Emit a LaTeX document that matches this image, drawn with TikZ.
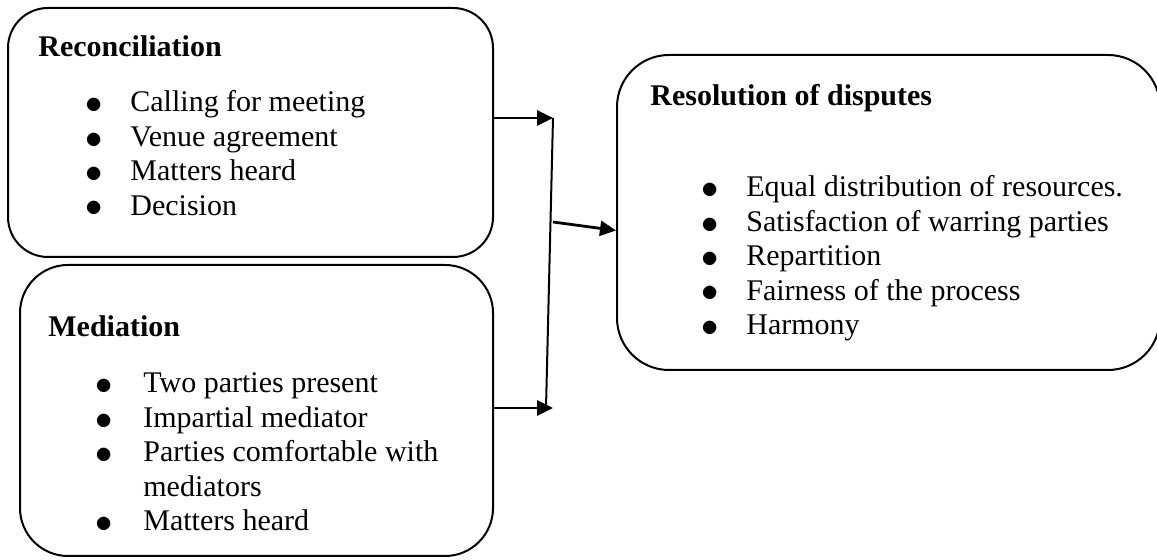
\documentclass[tikz,border=0pt]{standalone}
\usepackage{fontspec}
\setmainfont{Liberation Serif}
\usetikzlibrary{arrows.meta,fit,positioning}

\newcommand{\blt}{\raisebox{-0.9pt}{\fontsize{18.5}{17}\selectfont$\bullet$}}

\begin{document}
\begin{tikzpicture}[x=0.5pt,y=-0.5pt,
  box/.style={draw,line width=1pt,inner sep=0pt},
  title/.style={anchor=base west,inner sep=0pt,font=\fontsize{15}{17.2}\selectfont\bfseries},
  items/.style={anchor=base west,inner sep=0pt,font=\fontsize{15}{17.2}\selectfont},
  arr/.style={line width=1.4pt,-{Triangle[length=8pt,width=7.5pt]}}]
  \useasboundingbox (0,0) rectangle (1157,560);

  % boxes
  \node[box,rounded corners=20pt,fit={(8,8) (493,257)}] (recon) {};
  \node[box,rounded corners=24pt,fit={(20,265) (493,556)}] (med) {};
  \node[box,rounded corners=26pt,fit={(617,55) (1160,370)}] (res) {};

  % texts
  \node[title] (recont) at (38,57) {Reconciliation};
  \node[items] (reconl) at (85,112) {\begin{tabular}[t]{@{}p{22.5pt}@{}l@{}}
    \blt & Calling for meeting\\
    \blt & Venue agreement\\
    \blt & Matters heard\\
    \blt & Decision
  \end{tabular}};
  \node[title] (medt) at (48,337) {Mediation};
  \node[items] (medl) at (95,393) {\begin{tabular}[t]{@{}p{24pt}@{}l@{}}
    \blt & Two parties present\\
    \blt & Impartial mediator\\
    \blt & Parties comfortable with\\
         & mediators\\
    \blt & Matters heard
  \end{tabular}};
  \node[title] (rest) at (650,106) {Resolution of disputes};
  \node[items] (resl) at (701,197) {\begin{tabular}[t]{@{}p{22.5pt}@{}l@{}}
    \blt & Equal distribution of resources.\\
    \blt & Satisfaction of warring parties\\
    \blt & Repartition\\
    \blt & Fairness of the process\\
    \blt & Harmony
  \end{tabular}};

  % connectors
  \coordinate (jt) at (553,118);
  \coordinate (jb) at (546,408);
  \coordinate (jm) at (553,222);
  \draw[line width=1pt] (jt) -- (jb);
  \draw[arr] (jt -| recon.east) -- (jt);
  \draw[arr] (jb -| med.east) -- ([xshift=3.5pt]jb);
  \draw[arr] (jm) -- ([yshift=-9pt]res.west);
\end{tikzpicture}
\end{document}
